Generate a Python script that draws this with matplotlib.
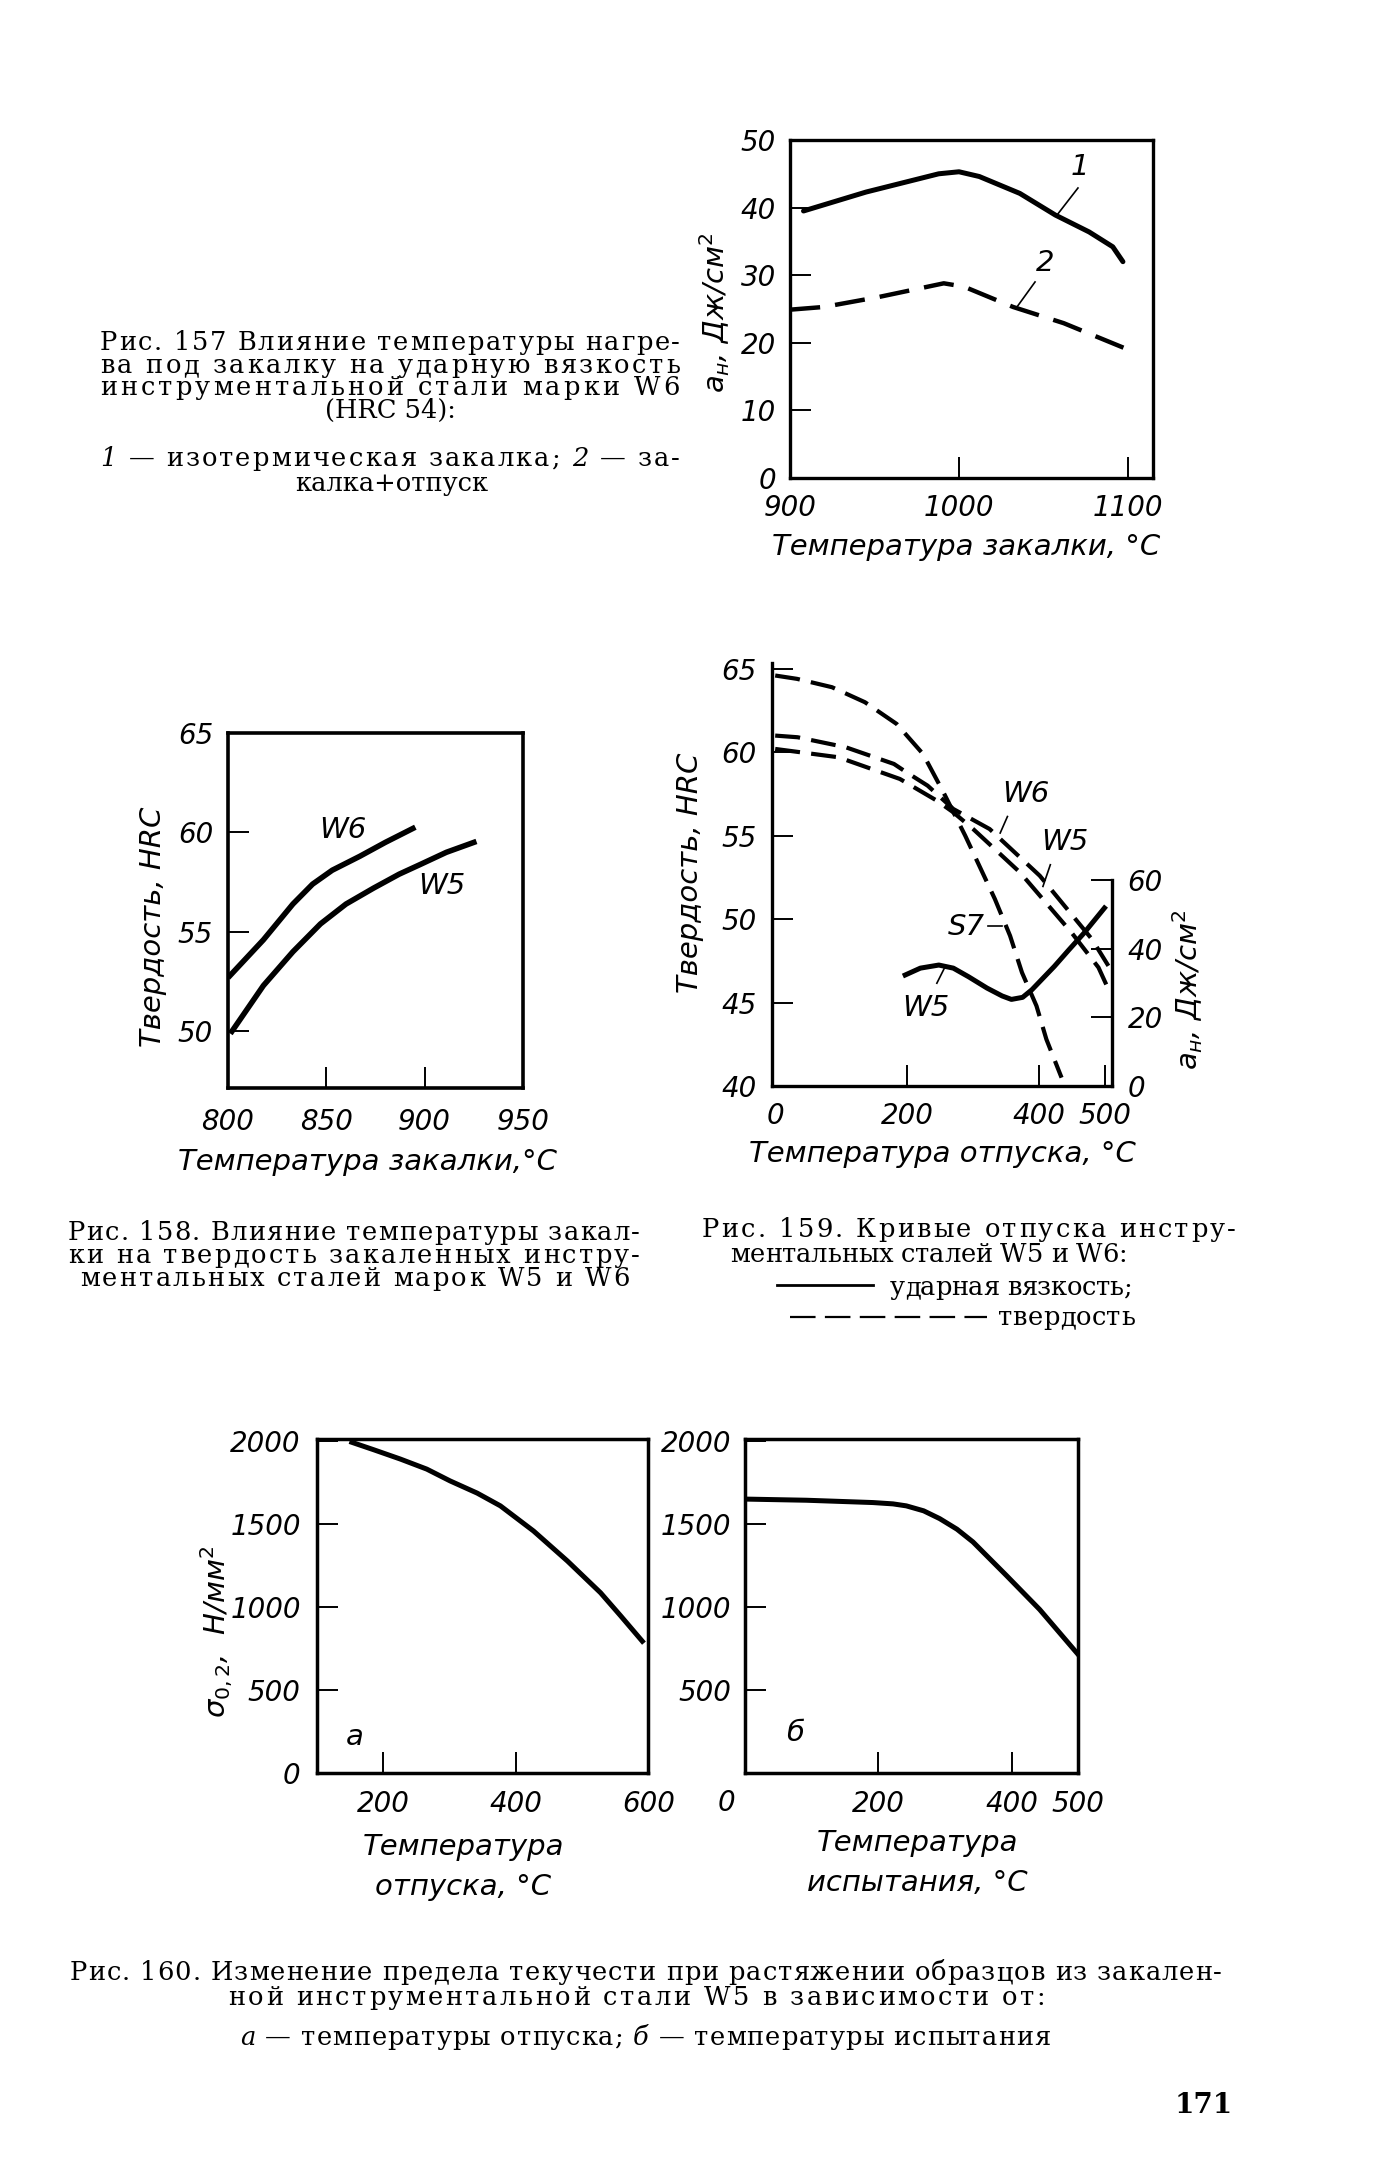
import matplotlib
matplotlib.use("Agg")
import matplotlib.pyplot as plt
from matplotlib.lines import Line2D

# ----------------------------------------------------------------------
# Page geometry (pixels of the scanned page)
# ----------------------------------------------------------------------
W, H = 1373, 2172
SANS = ["Liberation Sans Narrow", "DejaVu Sans"]
SERIF = ["DejaVu Serif"]
TICK_SIZE = 20
LABEL_SIZE = 21
CAP_SIZE = 18.5

# ----------------------------------------------------------------------
# Data
# ----------------------------------------------------------------------
# Fig. 157: impact toughness vs quenching temperature, steel W6
f157_temp_1 = [908, 945, 988, 1000, 1012, 1036, 1057, 1077, 1091, 1097]
f157_ak_1 = [39.5, 42.3, 45.0, 45.3, 44.6, 42.1, 38.9, 36.4, 34.2, 32.0]
f157_temp_2 = [900, 920, 953, 991, 1003, 1032, 1062, 1101]
f157_ak_2 = [24.9, 25.3, 26.8, 28.8, 28.3, 25.3, 22.9, 18.9]

# Fig. 158: hardness vs quenching temperature
f158_temp_w6 = [801, 818, 833, 843, 853, 867, 880, 894]
f158_hrc_w6 = [52.8, 54.6, 56.4, 57.4, 58.1, 58.8, 59.5, 60.2]
f158_temp_w5 = [802, 818, 833, 847, 860, 874, 887, 898, 911, 925]
f158_hrc_w5 = [50.0, 52.3, 54.0, 55.4, 56.4, 57.2, 57.9, 58.4, 59.0, 59.5]

# Fig. 159: tempering curves
f159_temp_s7 = [0, 33, 86, 136, 184, 224, 255, 288, 333, 356, 374, 396, 411, 434]
f159_hrc_s7 = [64.6, 64.4, 63.9, 63.0, 61.7, 59.9, 57.6, 55.0, 51.2, 49.0, 46.8, 44.8, 42.8, 40.5]
f159_temp_w6 = [0, 34, 107, 180, 199, 231, 270, 325, 401, 480, 505]
f159_hrc_w6 = [61.0, 60.9, 60.3, 59.3, 58.8, 58.0, 56.6, 55.4, 52.6, 48.8, 47.2]
f159_temp_w5 = [0, 96, 189, 245, 270, 300, 371, 449, 490, 505]
f159_hrc_w5 = [60.2, 59.7, 58.4, 57.1, 56.4, 55.4, 52.8, 49.2, 47.1, 45.8]
f159_temp_ak = [197, 220, 248, 270, 293, 321, 344, 358, 375, 389, 406, 423, 445, 468, 499]
f159_ak_w5 = [32.3, 34.3, 35.2, 34.3, 31.8, 28.5, 26.2, 25.2, 25.8, 28.0, 31.4, 34.8, 39.6, 44.5, 51.8]

# Fig. 160: yield strength of W5
f160a_temp = [153, 186, 226, 266, 301, 342, 377, 427, 478, 528, 558, 591]
f160a_sigma = [1995, 1950, 1894, 1833, 1762, 1688, 1611, 1459, 1278, 1086, 948, 793]
f160b_temp = [0, 92, 192, 222, 242, 268, 292, 318, 342, 392, 442, 500]
f160b_sigma = [1652, 1645, 1631, 1623, 1611, 1581, 1534, 1470, 1393, 1191, 985, 712]

fig = plt.figure(figsize=(W / 100, H / 100), dpi=100)
fig.patch.set_facecolor("white")
R = fig.canvas.get_renderer()


def axes_px(l, t, r, b):
    return fig.add_axes([l / W, 1 - b / H, (r - l) / W, (b - t) / H])


def ftext(x, y, s, **kw):
    return fig.text(x / W, 1 - y / H, s, **kw)


def px(v):
    # pixels -> points
    return v * 0.72


def style(ax, lw=2.4):
    for sp in ax.spines.values():
        sp.set_linewidth(lw)
    ax.tick_params(direction="in", length=px(21), width=1.4, labelsize=TICK_SIZE)
    for lab in ax.get_xticklabels() + ax.get_yticklabels():
        lab.set_family(SANS)
        lab.set_style("italic")
    ax.set_facecolor("none")


def text_width(s, size, style_="normal"):
    t = fig.text(0, 0, s, fontsize=size, family=SERIF, style=style_)
    w = t.get_window_extent(renderer=R).width
    t.remove()
    return w


_adv = {}


def advance(c, size, style_):
    key = (c, size, style_)
    if key not in _adv:
        _adv[key] = text_width("н" + c + "н", size, style_) - text_width("нн", size, style_)
    return _adv[key]


def just_line(s, x0, x1, y, size=CAP_SIZE, italic=()):
    """Spread the characters of one caption line over x0..x1 (letter spacing)."""
    styles = []
    for word in s.split(" "):
        st = "italic" if word in italic else "normal"
        styles += [st] * len(word) + ["normal"]
    styles = styles[:len(s)]
    ws = [advance(c, size, st) for c, st in zip(s, styles)]
    extra = (x1 - x0 - sum(ws)) / max(len(s) - 1, 1)
    x = x0
    for c, st, wd in zip(s, styles, ws):
        if c != " ":
            ftext(x, y, c, fontsize=size, family=SERIF, va="baseline", ha="left", style=st)
        x += wd + extra


def centre_line(s, xc, y, size=CAP_SIZE):
    ftext(xc, y, s, fontsize=size, family=SERIF, va="baseline", ha="center")


lab_kw = dict(fontsize=LABEL_SIZE, family=SANS, style="italic")
tick_kw = dict(fontsize=TICK_SIZE, family=SANS, style="italic")

# ----------------------------------------------------------------------
# Fig. 157
# ----------------------------------------------------------------------
ax1 = axes_px(790, 140, 1153, 478)
ax1.plot(f157_temp_1, f157_ak_1, color="black", lw=3.6, solid_capstyle="round")
ax1.plot(f157_temp_2, f157_ak_2, color="black", lw=3.2, linestyle=(0, (6.8, 3.4)))
ax1.set_xlim(900, 1114.8)
ax1.set_ylim(0, 50)
ax1.set_xticks([900, 1000, 1100])
ax1.set_yticks([0, 10, 20, 30, 40, 50])
style(ax1)
ax1.tick_params(axis="y", pad=px(14))
ax1.tick_params(axis="x", pad=px(16))
ax1.text(1071.6, 46.0, "1", ha="center", va="center", **lab_kw)
ax1.plot([1070.4, 1058], [42.9, 38.9], color="black", lw=1.2)
ax1.text(1050.9, 31.8, "2", ha="center", va="center", **lab_kw)
ax1.plot([1045, 1034.3], [29.0, 25.3], color="black", lw=1.2)
ftext(966, 547, "Температура закалки, °C", ha="center", va="center", **lab_kw)
ftext(715, 313, "$a_н$, Дж/см$^2$", ha="center", va="center", rotation=90, **lab_kw)

just_line("Рис. 157 Влияние температуры нагре-", 100, 680, 350)
just_line("ва под закалку на ударную вязкость", 100, 680, 373)
just_line("инструментальной стали марки W6", 100, 680, 395)
centre_line("(HRC 54):", 390, 418)
just_line("1 — изотермическая закалка; 2 — за-", 100, 680, 466, italic=("1", "2"))
centre_line("калка+отпуск", 392, 491)

# ----------------------------------------------------------------------
# Fig. 158
# ----------------------------------------------------------------------
ax2 = axes_px(228, 733, 523, 1088)
ax2.plot(f158_temp_w6, f158_hrc_w6, color="black", lw=4.0)
ax2.plot(f158_temp_w5, f158_hrc_w5, color="black", lw=4.0)
ax2.set_xlim(800, 950)
ax2.set_ylim(47.15, 65)
ax2.set_xticks([800, 850, 900, 950])
ax2.set_yticks([50, 55, 60, 65])
style(ax2, lw=2.6)
ax2.tick_params(axis="y", pad=px(15))
ax2.tick_params(axis="x", pad=px(20))
ax2.text(858.5, 60.1, "W6", ha="center", va="center", **lab_kw)
ax2.text(908.5, 57.3, "W5", ha="center", va="center", **lab_kw)
ftext(367, 1162, "Температура закалки,°C", ha="center", va="center", **lab_kw)
ftext(153, 927, "Твердость, HRC", ha="center", va="center", rotation=90, **lab_kw)

just_line("Рис. 158. Влияние температуры закал-", 68, 640, 1240)
just_line("ки на твердость закаленных инстру-", 68, 640, 1263)
just_line("ментальных сталей марок W5 и W6", 80, 630, 1286)

# ----------------------------------------------------------------------
# Fig. 159
# ----------------------------------------------------------------------
ax3 = axes_px(771.5, 663, 1111.7, 1086)
dash3 = (0, (6.0, 2.7))
ax3.plot(f159_temp_s7, f159_hrc_s7, color="black", lw=3.0, linestyle=dash3)
ax3.plot(f159_temp_w6, f159_hrc_w6, color="black", lw=3.0, linestyle=dash3)
ax3.plot(f159_temp_w5, f159_hrc_w5, color="black", lw=3.0, linestyle=dash3)
ax3.set_xlim(-5.6, 510)
ax3.set_ylim(40, 65.35)
ax3.set_xticks([0, 200, 400, 500])
ax3.set_yticks([40, 45, 50, 55, 60, 65])
style(ax3, lw=2.4)
ax3.xaxis.get_major_ticks()[0].tick1line.set_visible(False)
ax3.spines["top"].set_visible(False)
ax3.spines["right"].set_visible(False)
ax3.tick_params(axis="y", pad=px(15))
ax3.tick_params(axis="x", pad=px(16))

ax3r = ax3.twinx()
ax3r.plot(f159_temp_ak, f159_ak_w5, color="black", lw=3.6)
ax3r.set_ylim(0, 123.1)
ax3r.set_yticks([0, 20, 40, 60])
style(ax3r, lw=2.4)
for side in ("top", "left", "bottom"):
    ax3r.spines[side].set_visible(False)
ax3r.spines["right"].set_bounds(0, 60)
ax3r.tick_params(axis="y", pad=px(16))

ax3.text(380, 57.5, "W6", ha="center", va="center", **lab_kw)
ax3.plot([352, 341], [56.15, 55.16], color="black", lw=1.2)
ax3.text(439, 54.6, "W5", ha="center", va="center", **lab_kw)
ax3.plot([417, 405.8], [53.26, 51.96], color="black", lw=1.2)
ax3.text(290, 49.5, "S7", ha="center", va="center", **lab_kw)
ax3.plot([322.9, 343.2], [49.56, 49.56], color="black", lw=1.2)
ax3.text(228.5, 44.7, "W5", ha="center", va="center", **lab_kw)
ax3.plot([245, 256.4], [46.16, 47.06], color="black", lw=1.2)
ftext(942, 1154, "Температура отпуска, °C", ha="center", va="center", **lab_kw)
ftext(690, 873, "Твердость, HRC", ha="center", va="center", rotation=90, **lab_kw)
ftext(1188, 990, "$a_н$, Дж/см$^2$", ha="center", va="center", rotation=90, **lab_kw)

just_line("Рис. 159. Кривые отпуска инстру-", 702, 1236, 1237)
just_line("ментальных сталей W5 и W6:", 730, 1127, 1262)
fig.add_artist(Line2D([777 / W, 873 / W], [1 - 1285 / H] * 2, transform=fig.transFigure,
                      color="black", lw=2.0))
just_line("ударная вязкость;", 890, 1132, 1295)
fig.add_artist(Line2D([790 / W, 987 / W], [1 - 1317 / H] * 2, transform=fig.transFigure,
                      color="black", lw=1.6, linestyle=(0, (11.5, 4.2))))
just_line("твердость", 998, 1135, 1325)

# ----------------------------------------------------------------------
# Fig. 160
# ----------------------------------------------------------------------
ax4 = axes_px(316.7, 1439, 648.3, 1772.5)
ax4.plot(f160a_temp, f160a_sigma, color="black", lw=3.6)
ax4.set_xlim(100, 600)
ax4.set_ylim(0, 2015)
ax4.set_xticks([200, 400, 600])
ax4.set_yticks([0, 500, 1000, 1500, 2000])
style(ax4, lw=2.5)
ax4.tick_params(axis="y", pad=px(16))
ax4.tick_params(axis="x", pad=px(18))
ax4.text(158, 217, "а", ha="center", va="center", **lab_kw)
ftext(463, 1847, "Температура", ha="center", va="center", **lab_kw)
ftext(463, 1887, "отпуска, °C", ha="center", va="center", **lab_kw)
ftext(217, 1632, r"$\sigma_{0,2}$,  Н/мм$^2$", ha="center", va="center", rotation=90, **lab_kw)

ax5 = axes_px(745, 1439, 1078.3, 1772.5)
ax5.plot(f160b_temp, f160b_sigma, color="black", lw=3.6)
ax5.set_xlim(0, 500)
ax5.set_ylim(0, 2015)
ax5.set_xticks([200, 400, 500])
ax5.set_yticks([500, 1000, 1500, 2000])
style(ax5, lw=2.5)
ax5.tick_params(axis="y", pad=px(14))
ax5.tick_params(axis="x", pad=px(18))
ftext(726, 1803, "0", ha="center", va="center", **tick_kw)
ax5.text(75, 237, "б", ha="center", va="center", **lab_kw)
ftext(917, 1843, "Температура", ha="center", va="center", **lab_kw)
ftext(917, 1883, "испытания, °C", ha="center", va="center", **lab_kw)

just_line("Рис. 160. Изменение предела текучести при растяжении образцов из закален-",
          70, 1222, 1980)
just_line("ной инструментальной стали W5 в зависимости от:", 228, 1045, 2005)
just_line("а — температуры отпуска; б — температуры испытания", 240, 1050, 2045,
          italic=("а", "б"))
ftext(1204, 2113, "171", fontsize=20, family=SERIF, weight="bold", ha="center", va="baseline")

fig.savefig("out.png", dpi=100, facecolor="white")
